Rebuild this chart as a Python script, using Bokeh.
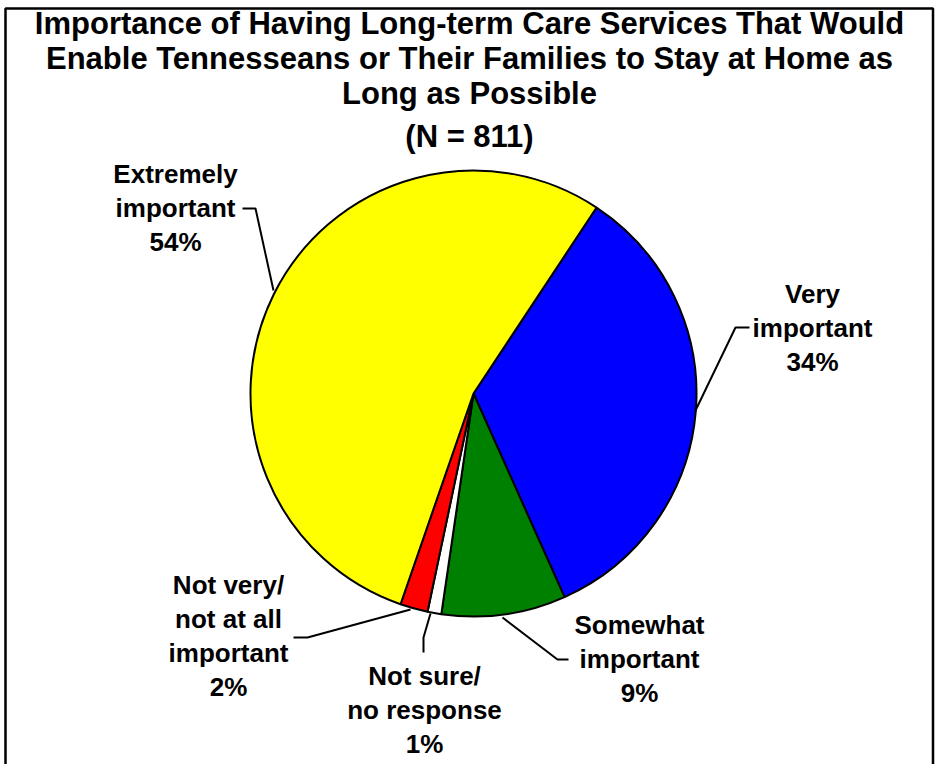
import math
from bokeh.plotting import figure
from bokeh.models import Range1d
from bokeh.core.properties import value
from bokeh.embed import file_html
from bokeh.resources import INLINE

# ---- data ----
title_lines = [
    "Importance of Having Long-term Care Services That Would",
    "Enable Tennesseans or Their Families to Stay at Home as",
    "Long as Possible",
    "(N = 811)",
]
categories = ["Very important", "Somewhat important", "Not sure/ no response",
              "Not very/ not at all important", "Extremely important"]
label_lines = [["Very", "important"], ["Somewhat", "important"],
               ["Not sure/", "no response"], ["Not very/", "not at all", "important"],
               ["Extremely", "important"]]
values = [34, 9, 1, 2, 54]
colors = ["#0000FF", "#008000", "#FFFFFF", "#FF0000", "#FFFF00"]

# ---- layout (image pixel coordinates) ----
W, H = 938, 764
def Y(img_y):
    return H - img_y

FONT = value("Liberation Sans")
cx, cy, R = 473, 393, 223
start_deg = 33.5  # clockwise from 12 o'clock

p = figure(width=W, height=H, output_backend="svg", toolbar_location=None,
           x_range=Range1d(0, W), y_range=Range1d(0, H),
           min_border=0, outline_line_color=None)
p.axis.visible = False
p.grid.visible = False
p.background_fill_color = "white"
p.border_fill_color = "white"

# border
p.line([5, 5, 932.5, 932.5], [Y(780), Y(8), Y(8), Y(780)], line_color="black", line_width=2.5)

# pie
total = sum(values)
acc = start_deg
starts, ends = [], []
for v in values:
    a0 = acc
    a1 = acc + v / total * 360.0
    starts.append(math.radians(90 - a0))
    ends.append(math.radians(90 - a1))
    acc = a1
p.wedge(x=[cx] * len(values), y=[Y(cy)] * len(values), radius=R,
        start_angle=starts, end_angle=ends, direction="clock",
        fill_color=colors, line_color="black", line_width=2)

# title (vertical positions = text centres)
title_centres = [23, 58, 93, 136]
p.text(x=[469] * 4, y=[Y(b) for b in title_centres], text=title_lines,
       text_font=FONT, text_font_style="bold", text_font_size="31px",
       text_align="center", text_baseline="alphabetic", text_color="black")

# labels (first line centre)
label_pos = [(812, 293), (639, 624), (424, 675), (228, 584), (175, 173)]
step = 34.3
xs, ys, ts = [], [], []
for lines, v, (lx, ly) in zip(label_lines, values, label_pos):
    allines = lines + [f"{v}%"]
    for i, t in enumerate(allines):
        xs.append(lx)
        ys.append(Y(ly + i * step))
        ts.append(t)
p.text(x=xs, y=ys, text=ts, text_font=FONT, text_font_style="bold",
       text_font_size="26px", text_align="center", text_baseline="alphabetic",
       text_color="black")

# leader lines
leaders = [
    [(749, 327), (735, 327), (695, 410)],
    [(568, 659), (557, 659), (502, 617)],
    [(430, 613), (423, 637), (423, 652)],
    [(293, 637), (307, 637), (410, 609)],
    [(242, 208), (255, 208), (273, 290)],
]
p.multi_line(xs=[[pt[0] for pt in l] for l in leaders],
             ys=[[Y(pt[1]) for pt in l] for l in leaders],
             line_color="black", line_width=2)

open("out.html", "w").write(file_html(p, INLINE))
